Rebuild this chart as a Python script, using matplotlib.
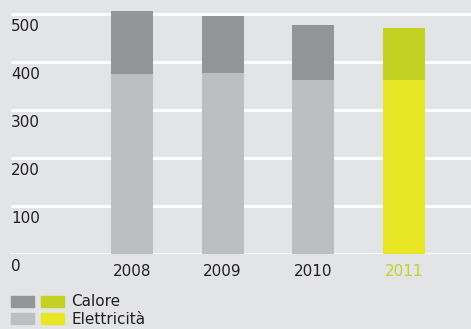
import numpy as np
import matplotlib.pyplot as plt
from matplotlib.patches import Patch
from matplotlib.legend_handler import HandlerTuple

anni = ['2008', '2009', '2010', '2011']
elettricita = [375, 377, 362, 362]
calore = [131, 119, 115, 109]
yticks = [0, 100, 200, 300, 400, 500]

bg = '#e3e4e6'
grigio_scuro = '#939598'
grigio_chiaro = '#bcbec1'
verde = '#c3d123'
giallo = '#e9e625'
testo = '#231f20'

plt.rcParams['font.family'] = ['DejaVu Sans']

fig = plt.figure(figsize=(4.71, 3.29), dpi=100, facecolor=bg)
ax = fig.add_axes([11 / 471, 75 / 329, 460 / 471, 254 / 329])
ax.set_facecolor(bg)

x = np.arange(len(anni))
col_basso = [grigio_chiaro] * 3 + [giallo]
col_alto = [grigio_scuro] * 3 + [verde]
ax.bar(x, elettricita, width=0.463, color=col_basso, zorder=3)
ax.bar(x, calore, bottom=elettricita, width=0.463, color=col_alto, zorder=3)

for v in yticks:
    ax.axhline(v, color='white', lw=2, zorder=1)
    ax.text(0, v - 10, str(v), transform=ax.get_yaxis_transform(),
            ha='left', va='top', fontsize=11, color=testo)

for i, a in enumerate(anni):
    ax.text(i, -37, a, ha='center', va='center', fontsize=11,
            color=verde if a == '2011' else testo)

ax.set_xlim(-1.334, 3.739)
ax.set_ylim(0, 529)
ax.axis('off')

h1 = (Patch(color=grigio_scuro), Patch(color=verde))
h2 = (Patch(color=grigio_chiaro), Patch(color=giallo))
fig.legend([h1, h2], ['Calore', 'Elettricità'],
           handler_map={tuple: HandlerTuple(ndivide=None, pad=0.5)},
           loc='upper left', bbox_to_anchor=(11 / 471, 34.5 / 329),
           frameon=False, fontsize=11, handlelength=3.45, handleheight=0.72,
           handletextpad=0.5, labelspacing=0.18, borderpad=0, borderaxespad=0,
           labelcolor=testo)

fig.savefig('out.png', dpi=100, facecolor=bg)
